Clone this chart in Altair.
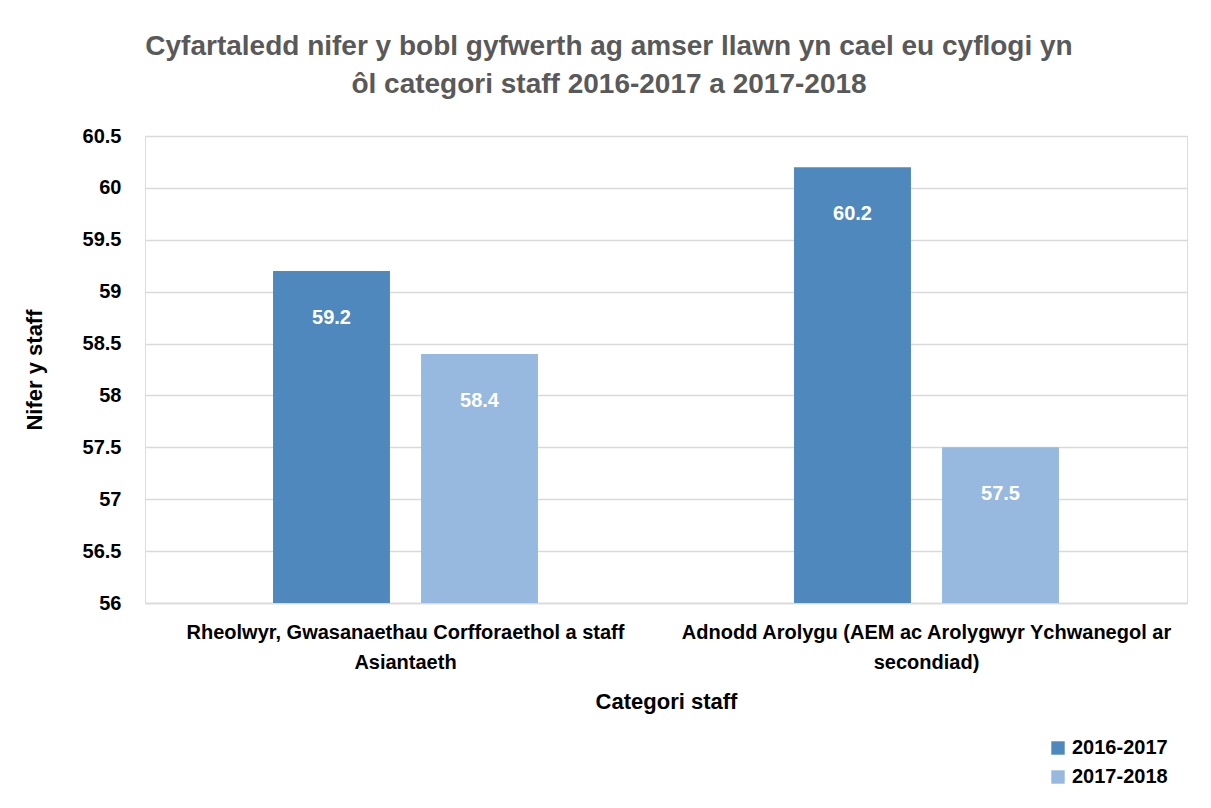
import altair as alt
import pandas as pd

categories = [
    "Rheolwyr, Gwasanaethau Corfforaethol a staff Asiantaeth",
    "Adnodd Arolygu (AEM ac Arolygwyr Ychwanegol ar secondiad)",
]
cat_lines = [
    ["Rheolwyr, Gwasanaethau Corfforaethol a staff", "Asiantaeth"],
    ["Adnodd Arolygu (AEM ac Arolygwyr Ychwanegol ar", "secondiad)"],
]
series = ["2016-2017", "2017-2018"]
values_2016 = [59.2, 60.2]
values_2017 = [58.4, 57.5]
colors = ["#4F88BD", "#97B9DF"]
y_ticks = [56, 56.5, 57, 57.5, 58, 58.5, 59, 59.5, 60, 60.5]

rows = []
for i, c in enumerate(categories):
    rows.append({"cat": c, "series": series[0], "value": values_2016[i]})
    rows.append({"cat": c, "series": series[1], "value": values_2017[i]})
df = pd.DataFrame(rows)

FONT = "Liberation Sans, sans-serif"

label_expr = " : ".join(
    [f"datum.value == '{c}' ? {l!r}" for c, l in zip(categories, cat_lines)]
) + " : datum.value"

x = alt.X(
    "cat:N",
    sort=categories,
    scale=alt.Scale(paddingInner=0, paddingOuter=0),
    axis=alt.Axis(
        title="Categori staff",
        labelAngle=0,
        labelExpr=label_expr,
        labelLimit=0,
        labelFont=FONT,
        labelFontSize=20,
        labelFontWeight="bold",
        labelColor="#000000",
        labelPadding=19,
        labelLineHeight=30,
        titleFont=FONT,
        titleFontSize=22,
        titleFontWeight="bold",
        titleColor="#000000",
        titlePadding=19,
        ticks=False,
        domainColor="#d9d9d9",
        domainWidth=1.5,
        grid=False,
    ),
)
xoff = alt.XOffset(
    "series:N",
    sort=series,
    scale=alt.Scale(paddingInner=0.21, paddingOuter=0.865),
)
y = alt.Y(
    "value:Q",
    scale=alt.Scale(domain=[56, 60.5], nice=False, zero=False, clamp=True),
    axis=alt.Axis(
        title="Nifer y staff",
        values=y_ticks,
        format=".3~r",
        labelFont=FONT,
        labelFontSize=20,
        labelFontWeight="bold",
        labelColor="#000000",
        labelPadding=24,
        titleFont=FONT,
        titleFontSize=22,
        titleFontWeight="bold",
        titleColor="#000000",
        titlePadding=36,
        ticks=False,
        domain=False,
        gridColor="#d9d9d9",
        gridWidth=1.5,
    ),
)
color = alt.Color(
    "series:N",
    sort=series,
    scale=alt.Scale(domain=series, range=colors),
    legend=alt.Legend(
        title=None,
        orient="none",
        legendX=903,
        legendY=602,
        symbolType="square",
        symbolSize=180,
        symbolStrokeWidth=0,
        labelFont=FONT,
        labelFontSize=20,
        labelFontWeight="bold",
        labelColor="#000000",
        rowPadding=9,
    ),
)

base = alt.Chart(df).encode(x=x, xOffset=xoff, y=y)

bars = base.mark_bar(clip=True).encode(color=color)
labels = base.mark_text(
    font=FONT, fontSize=20, fontWeight="bold", color="#ffffff", baseline="middle", dy=47
).encode(text=alt.Text("value:Q", format=".1f"))

chart = (
    (bars + labels)
    .properties(
        width=1042,
        height=467,
        title=alt.TitleParams(
            text=[
                "Cyfartaledd nifer y bobl gyfwerth ag amser llawn yn cael eu cyflogi yn",
                "ôl categori staff 2016-2017 a 2017-2018",
            ],
            font=FONT,
            fontSize=28,
            fontWeight="bold",
            color="#595959",
            anchor="middle",
            dx=-57,
            offset=27,
            lineHeight=38,
        ),
        autosize=alt.AutoSizeParams(type="none"),
        padding={"left": 137, "top": 128, "right": 16, "bottom": 190},
    )
    .configure_view(stroke=None)
    .configure(background="#ffffff")
)

chart.save("out.html", embed_options={"renderer": "svg", "actions": False})
